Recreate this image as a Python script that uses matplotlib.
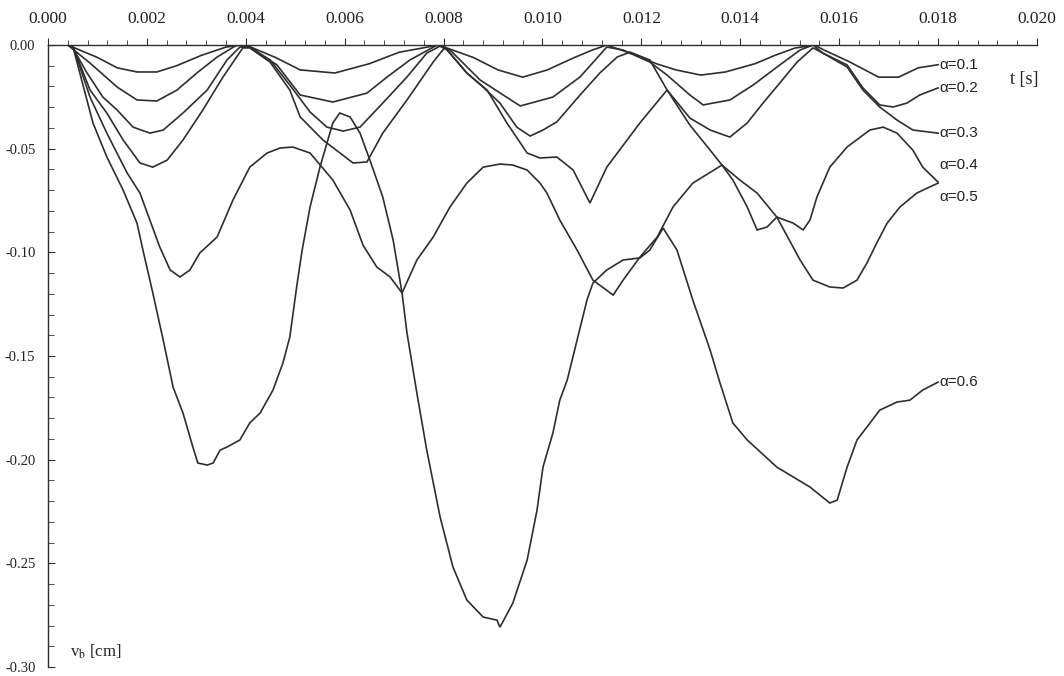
import matplotlib
matplotlib.use("Agg")
import matplotlib.pyplot as plt
from matplotlib.ticker import MultipleLocator, FormatStrFormatter

# --------------------
# Data (t in s, v_b in cm)
# --------------------
t_a1 = [0.00040, 0.00100, 0.00140, 0.00180, 0.00220, 0.00260, 0.00310, 0.00360, 0.00390, 0.00410,
        0.00460, 0.00510, 0.00580, 0.00650, 0.00710, 0.00790, 0.00860, 0.00910, 0.00960, 0.01010,
        0.01060, 0.01100, 0.01130, 0.01190, 0.01230, 0.01270, 0.01320, 0.01370, 0.01430, 0.01470,
        0.01510, 0.01550, 0.01570, 0.01620, 0.01680, 0.01720, 0.01760, 0.01800]
v_a1 = [0, -0.0060, -0.0110, -0.0130, -0.0130, -0.0100, -0.0050, -0.0010, 0, -0.0010,
        -0.0060, -0.0120, -0.0135, -0.0090, -0.0035, 0, -0.0060, -0.0120, -0.0155, -0.0120,
        -0.0065, -0.0025, 0, -0.0050, -0.0090, -0.0120, -0.0145, -0.0130, -0.0090, -0.0050,
        -0.0015, 0, -0.0025, -0.0080, -0.0155, -0.0155, -0.0110, -0.0095]

t_a2 = [0.00040, 0.00085, 0.00140, 0.00180, 0.00220, 0.00261, 0.00301, 0.00342, 0.00382, 0.00408,
        0.00463, 0.00510, 0.00576, 0.00645, 0.00686, 0.00732, 0.00787, 0.00813, 0.00874, 0.00955,
        0.01021, 0.01076, 0.01130, 0.01163, 0.01217, 0.01252, 0.01298, 0.01325, 0.01379, 0.01426,
        0.01480, 0.01521, 0.01547, 0.01567, 0.01616, 0.01648, 0.01682, 0.01709, 0.01737, 0.01763,
        0.01800]
v_a2 = [0, -0.0087, -0.0203, -0.0265, -0.0270, -0.0217, -0.0135, -0.0058, 0, -0.0010,
        -0.0096, -0.0241, -0.0275, -0.0232, -0.0154, -0.0072, 0, -0.0024, -0.0169, -0.0294,
        -0.0251, -0.0154, -0.0010, -0.0024, -0.0082, -0.0145, -0.0241, -0.0289, -0.0265, -0.0193,
        -0.0096, -0.0024, 0, -0.0039, -0.0096, -0.0207, -0.0289, -0.0299, -0.0280, -0.0241,
        -0.0207]

t_a3 = [0.00040, 0.00049, 0.00079, 0.00111, 0.00140, 0.00172, 0.00206, 0.00233, 0.00273, 0.00322,
        0.00362, 0.00388, 0.00408, 0.00449, 0.00489, 0.00530, 0.00564, 0.00597, 0.00631, 0.00677,
        0.00726, 0.00766, 0.00793, 0.00807, 0.00847, 0.00880, 0.00914, 0.00948, 0.00975, 0.01001,
        0.01029, 0.01076, 0.01116, 0.01151, 0.01177, 0.01217, 0.01252, 0.01298, 0.01339, 0.01379,
        0.01414, 0.01446, 0.01480, 0.01515, 0.01547, 0.01567, 0.01616, 0.01648, 0.01682, 0.01717,
        0.01749, 0.01800]
v_a3 = [0, -0.0010, -0.0135, -0.0251, -0.0314, -0.0396, -0.0425, -0.0410, -0.0328, -0.0217,
        -0.0072, -0.0010, -0.0010, -0.0072, -0.0193, -0.0323, -0.0396, -0.0415, -0.0396, -0.0280,
        -0.0154, -0.0039, -0.0005, -0.0024, -0.0135, -0.0203, -0.0280, -0.0396, -0.0439, -0.0410,
        -0.0371, -0.0241, -0.0135, -0.0058, -0.0034, -0.0072, -0.0217, -0.0352, -0.0410, -0.0444,
        -0.0376, -0.0280, -0.0183, -0.0082, -0.0014, -0.0039, -0.0106, -0.0217, -0.0299, -0.0362,
        -0.0410, -0.0425]

t_a4 = [0.00040, 0.00051, 0.00085, 0.00119, 0.00152, 0.00186, 0.00212, 0.00241, 0.00273, 0.00313,
        0.00354, 0.00394, 0.00408, 0.00449, 0.00489, 0.00510, 0.00556, 0.00617, 0.00645, 0.00677,
        0.00726, 0.00779, 0.00803, 0.00847, 0.00888, 0.00928, 0.00969, 0.00995, 0.01029, 0.01062,
        0.01096, 0.01130, 0.01197, 0.01252, 0.01298, 0.01339, 0.01363, 0.01385, 0.01414, 0.01434,
        0.01454, 0.01474, 0.01507, 0.01527, 0.01541, 0.01555, 0.01581, 0.01616, 0.01662, 0.01689,
        0.01717, 0.01749, 0.01769, 0.01800]
v_a4 = [0, -0.0010, -0.0217, -0.0328, -0.0458, -0.0569, -0.0589, -0.0555, -0.0458, -0.0314,
        -0.0154, -0.0014, -0.0014, -0.0082, -0.0217, -0.0347, -0.0458, -0.0569, -0.0564, -0.0425,
        -0.0265, -0.0082, -0.0010, -0.0135, -0.0217, -0.0376, -0.0521, -0.0545, -0.0540, -0.0603,
        -0.0762, -0.0589, -0.0376, -0.0217, -0.0386, -0.0507, -0.0579, -0.0651, -0.0781, -0.0892,
        -0.0878, -0.0830, -0.0859, -0.0892, -0.0844, -0.0733, -0.0589, -0.0492, -0.0410, -0.0396,
        -0.0425, -0.0507, -0.0589, -0.0661]

t_a5 = [0.00040, 0.00051, 0.00085, 0.00119, 0.00160, 0.00186, 0.00206, 0.00226, 0.00247, 0.00267,
        0.00287, 0.00307, 0.00342, 0.00374, 0.00408, 0.00443, 0.00469, 0.00495, 0.00530, 0.00576,
        0.00611, 0.00637, 0.00665, 0.00692, 0.00716, 0.00746, 0.00779, 0.00813, 0.00847, 0.00880,
        0.00914, 0.00940, 0.00969, 0.00995, 0.01009, 0.01035, 0.01070, 0.01102, 0.01143, 0.01163,
        0.01197, 0.01232, 0.01264, 0.01304, 0.01363, 0.01399, 0.01434, 0.01474, 0.01521, 0.01547,
        0.01581, 0.01608, 0.01636, 0.01656, 0.01676, 0.01697, 0.01723, 0.01757, 0.01800]
v_a5 = [0, -0.0010, -0.0251, -0.0425, -0.0617, -0.0714, -0.0844, -0.0974, -0.1085, -0.1119,
        -0.1085, -0.1003, -0.0926, -0.0748, -0.0589, -0.0521, -0.0497, -0.0492, -0.0521, -0.0651,
        -0.0796, -0.0965, -0.1071, -0.1119, -0.1196, -0.1037, -0.0926, -0.0781, -0.0666, -0.0589,
        -0.0574, -0.0579, -0.0603, -0.0666, -0.0714, -0.0844, -0.0989, -0.1134, -0.1206, -0.1134,
        -0.1023, -0.0926, -0.0781, -0.0666, -0.0579, -0.0651, -0.0714, -0.0830, -0.1037, -0.1134,
        -0.1167, -0.1172, -0.1134, -0.1052, -0.0955, -0.0859, -0.0781, -0.0714, -0.0666]

t_a6 = [0.00040, 0.00051, 0.00091, 0.00119, 0.00152, 0.00180, 0.00192, 0.00212, 0.00233, 0.00253,
        0.00273, 0.00293, 0.00303, 0.00322, 0.00334, 0.00348, 0.00362, 0.00388, 0.00408, 0.00429,
        0.00455, 0.00475, 0.00489, 0.00504, 0.00514, 0.00530, 0.00550, 0.00576, 0.00590, 0.00611,
        0.00631, 0.00651, 0.00677, 0.00698, 0.00716, 0.00726, 0.00746, 0.00766, 0.00793, 0.00819,
        0.00847, 0.00880, 0.00908, 0.00914, 0.00940, 0.00969, 0.00989, 0.01001, 0.01021, 0.01035,
        0.01050, 0.01070, 0.01090, 0.01102, 0.01130, 0.01163, 0.01197, 0.01217, 0.01244, 0.01272,
        0.01304, 0.01339, 0.01359, 0.01385, 0.01414, 0.01474, 0.01541, 0.01581, 0.01596, 0.01616,
        0.01636, 0.01656, 0.01682, 0.01717, 0.01743, 0.01769, 0.01800]
v_a6 = [0, -0.0014, -0.0376, -0.0540, -0.0700, -0.0859, -0.0989, -0.1196, -0.1423, -0.1650,
        -0.1775, -0.1939, -0.2016, -0.2026, -0.2016, -0.1954, -0.1939, -0.1905, -0.1823, -0.1775,
        -0.1664, -0.1534, -0.1409, -0.1148, -0.0989, -0.0781, -0.0589, -0.0376, -0.0328, -0.0347,
        -0.0425, -0.0555, -0.0733, -0.0941, -0.1196, -0.1389, -0.1679, -0.1954, -0.2277, -0.2518,
        -0.2677, -0.2759, -0.2774, -0.2808, -0.2692, -0.2484, -0.2243, -0.2036, -0.1872, -0.1713,
        -0.1616, -0.1423, -0.1230, -0.1148, -0.1085, -0.1037, -0.1027, -0.0989, -0.0883, -0.0989,
        -0.1230, -0.1471, -0.1630, -0.1823, -0.1905, -0.2036, -0.2132, -0.2209, -0.2195, -0.2036,
        -0.1905, -0.1843, -0.1761, -0.1722, -0.1713, -0.1664, -0.1626]

curve_labels = ["α=0.1", "α=0.2", "α=0.3", "α=0.4", "α=0.5", "α=0.6"]

LINE_COLOR = "#2e2e2e"
TEXT_COLOR = "#222222"


def main():
    plt.rcParams["font.family"] = ["Liberation Serif", "DejaVu Serif"]
    plt.rcParams["mathtext.fontset"] = "stix"
    plt.rcParams["axes.unicode_minus"] = False

    fig = plt.figure(figsize=(10.64, 6.76), dpi=100)
    ax = fig.add_axes([0.0451, 0.0133, 0.9295, 0.9201])

    series = [(t_a1, v_a1), (t_a2, v_a2), (t_a3, v_a3),
              (t_a4, v_a4), (t_a5, v_a5), (t_a6, v_a6)]
    for t, v in series:
        ax.plot(t, v, color=LINE_COLOR, lw=1.2, solid_joinstyle="miter")

    # curve labels at the right-hand ends (alpha 0.4 / 0.5 share an end point)
    label_dy = [0, 0, 0, 12, -10, 0]
    for (t, v), lab, dy in zip(series, curve_labels, label_dy):
        ax.annotate(lab, (t[-1], v[-1]), xytext=(1, dy), textcoords="offset points",
                    ha="left", va="center", fontsize=11, color=TEXT_COLOR,
                    family=["Liberation Sans", "DejaVu Sans"])

    ax.set_xlim(0, 0.020)
    ax.set_ylim(-0.30, 0)

    ax.xaxis.set_major_locator(MultipleLocator(0.002))
    ax.xaxis.set_minor_locator(MultipleLocator(0.0004))
    ax.xaxis.set_major_formatter(FormatStrFormatter("%.3f"))
    ax.yaxis.set_major_locator(MultipleLocator(0.05))
    ax.yaxis.set_minor_locator(MultipleLocator(0.01))
    ax.yaxis.set_major_formatter(FormatStrFormatter("%.2f"))

    ax.xaxis.tick_top()
    ax.tick_params(axis="x", which="both", direction="out", top=True, bottom=False,
                   labeltop=True, labelbottom=False, color=LINE_COLOR)
    ax.tick_params(axis="x", which="major", length=5, pad=8, labelsize=12.5,
                   labelcolor=TEXT_COLOR)
    ax.tick_params(axis="x", which="minor", length=3.5)
    ax.tick_params(axis="y", which="both", direction="in", left=True, right=False,
                   color=LINE_COLOR)
    ax.tick_params(axis="y", which="major", length=5, pad=9, labelsize=10.5,
                   labelcolor=TEXT_COLOR)
    ax.tick_params(axis="y", which="minor", length=4)

    for side in ["right", "bottom"]:
        ax.spines[side].set_visible(False)
    for side in ["top", "left"]:
        ax.spines[side].set_color(LINE_COLOR)
        ax.spines[side].set_linewidth(1.0)

    ax.text(0.987, 0.945, "t [s]", transform=ax.transAxes, ha="center", va="center",
            fontsize=13, color=TEXT_COLOR)
    ax.text(0.022, 0.024, r"v$_\mathrm{b}$ [cm]", transform=ax.transAxes, ha="left",
            va="center", fontsize=12, color=TEXT_COLOR)

    fig.savefig("out.png", dpi=100)
    plt.close(fig)


if __name__ == "__main__":
    main()
